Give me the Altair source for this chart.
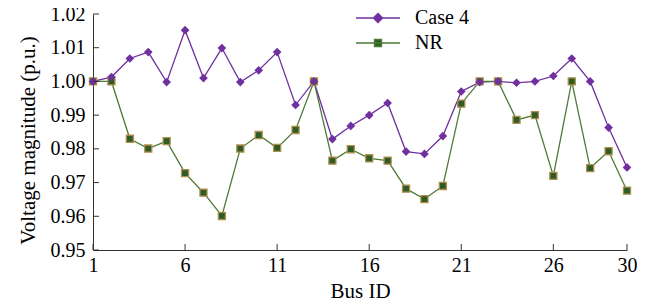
import altair as alt
import pandas as pd

bus = list(range(1, 31))
case4 = [1.000, 1.0013, 1.0068, 1.0087, 0.9998, 1.0152, 1.0010, 1.0099, 0.9998, 1.0033,
         1.0087, 0.9930, 1.0000, 0.9829, 0.9868, 0.9900, 0.9936, 0.9792, 0.9785, 0.9838,
         0.9970, 0.9998, 1.0000, 0.9996, 1.0000, 1.0016, 1.0068, 1.0000, 0.9863, 0.9745]
nr = [1.000, 1.000, 0.9830, 0.9801, 0.9823, 0.9728, 0.9670, 0.9601, 0.9801, 0.9841,
      0.9803, 0.9856, 1.0000, 0.9765, 0.9799, 0.9772, 0.9765, 0.9682, 0.9651, 0.9690,
      0.9934, 1.0000, 1.0000, 0.9886, 0.9900, 0.9720, 1.0000, 0.9743, 0.9793, 0.9676]
series_names = ["Case 4", "NR"]
x_ticks = [1, 6, 11, 16, 21, 26, 30]
y_ticks = [0.95, 0.96, 0.97, 0.98, 0.99, 1.00, 1.01, 1.02]

PURPLE = "#7030A0"
GREEN_LINE = "#4E7A35"
GREEN_FILL = "#2D5C26"
TAN = "#B08F4E"
FONT = "Liberation Serif"
W, H = 534, 236

df = pd.DataFrame({
    "bus": bus * 2,
    "v": case4 + nr,
    "series": [series_names[0]] * len(bus) + [series_names[1]] * len(bus),
})

xscale = alt.Scale(domain=[1, 30], nice=False, zero=False)
yscale = alt.Scale(domain=[0.95, 1.02], nice=False, zero=False)

common_axis = dict(ticks=False, tickSize=0, labelOverlap=False, labelFlush=False,
                   labelFont=FONT, labelFontSize=20, labelColor="black", titleFont=FONT,
                   titleFontSize=21, titleFontWeight="normal", titleColor="black",
                   grid=False, domainColor="#333", domainWidth=1)
xaxis = alt.Axis(values=x_ticks, title="Bus ID", labelPadding=5,
                 titleX=267, titleY=47, titleBaseline="alphabetic", **common_axis)
yaxis = alt.Axis(values=y_ticks, format=".2f", title="Voltage magnitude (p.u.)",
                 labelPadding=8, titleX=-59, titleY=126, titleBaseline="alphabetic",
                 **common_axis)

PATH_CASE = "M-4.4,0H4.4M0,-0.9L0.9,0L0,0.9L-0.9,0Z"
PATH_NR = "M-4.4,0H4.4M-0.7,-0.7H0.7V0.7H-0.7Z"


def mk_legend(path, fill, stroke, y):
    return alt.Legend(
        title=None, orient="none", legendX=275, legendY=y, padding=0,
        symbolSize=100, symbolType=path, symbolFillColor=fill, symbolStrokeColor=stroke,
        symbolStrokeWidth=1.4, symbolOpacity=1, labelOffset=27,
        labelFont=FONT, labelFontSize=20, labelColor="black", labelLimit=0,
    )


def X(field):
    return alt.X(field, scale=xscale, axis=xaxis, title="Bus ID")


def Y(field):
    return alt.Y(field, scale=yscale, axis=yaxis, title="Voltage magnitude (p.u.)")


base = alt.Chart(df)
line_case = base.transform_filter(alt.datum.series == "Case 4").mark_line(strokeWidth=1.3).encode(
    x=X("bus:Q"), y=Y("v:Q"),
    stroke=alt.Stroke("series:N", scale=alt.Scale(domain=["Case 4"], range=[PURPLE]),
                      legend=mk_legend(PATH_CASE, PURPLE, PURPLE, -6)),
)
line_nr = base.transform_filter(alt.datum.series == "NR").mark_line(strokeWidth=1.3).encode(
    x=X("bus:Q"), y=Y("v:Q"),
    stroke=alt.Stroke("series:N", scale=alt.Scale(domain=["NR"], range=[GREEN_LINE]),
                      legend=mk_legend(PATH_NR, GREEN_FILL, GREEN_LINE, 19)),
)
pts_case = base.transform_filter(alt.datum.series == "Case 4").mark_point(
    shape="diamond", filled=True, size=75, color=PURPLE, opacity=1
).encode(x=X("bus:Q"), y=Y("v:Q"))
pts_nr = base.transform_filter(alt.datum.series == "NR").mark_point(
    shape="square", filled=True, size=50, fill=GREEN_FILL, stroke=TAN, strokeWidth=1.3, opacity=1
).encode(x=X("bus:Q"), y=Y("v:Q"))

xt = alt.Chart(pd.DataFrame({"t": x_ticks})).mark_rule(color="#333", strokeWidth=1).encode(
    x=X("t:Q"), y=alt.value(H), y2=alt.value(H - 6))
yt = alt.Chart(pd.DataFrame({"t": y_ticks})).mark_rule(color="#333", strokeWidth=1).encode(
    y=Y("t:Q"), x=alt.value(0), x2=alt.value(6))

chart = alt.layer(line_case, line_nr, pts_nr, pts_case, xt, yt).resolve_scale(
    stroke="independent"
).resolve_legend(stroke="independent").properties(
    width=W, height=H,
    autosize=alt.AutoSizeParams(type="none"),
    padding={"left": 85, "top": 6, "right": 10, "bottom": 50},
    background="white",
).configure_view(stroke=None).configure_axis(
    grid=False, labelOverlap=False,
)

chart.save("out.html", embed_options={"renderer": "svg", "actions": False})
